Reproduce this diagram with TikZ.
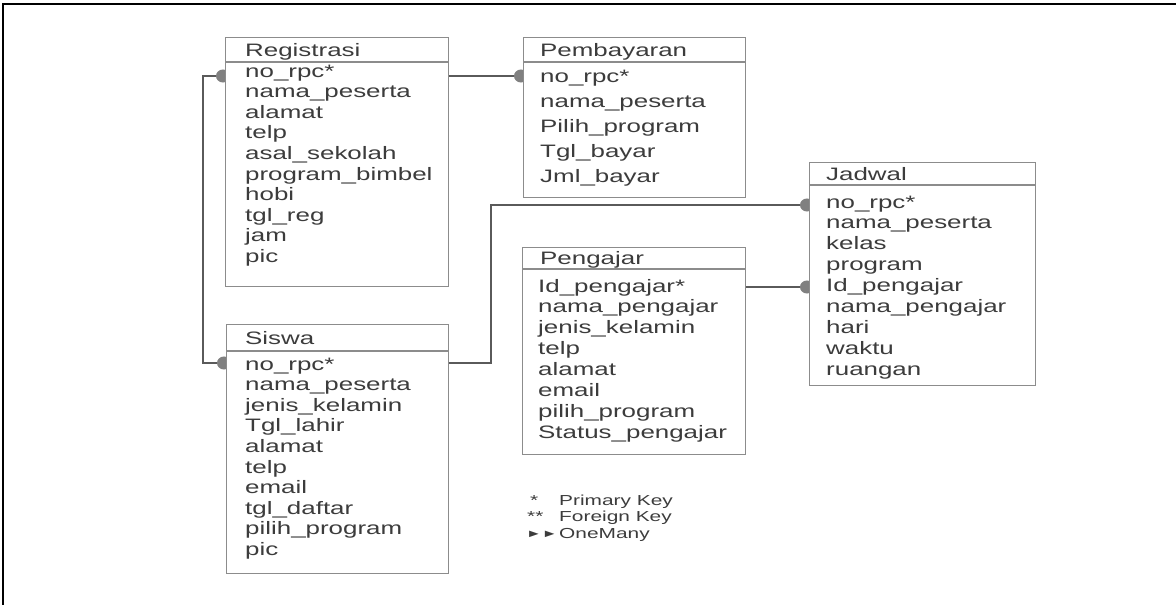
\documentclass[tikz,border=0pt]{standalone}
\usepackage{fontspec}
\setmainfont{Liberation Sans}[FakeStretch=1.44]
\usetikzlibrary{arrows.meta,calc}
\pgfdeclarelayer{bg}
\pgfsetlayers{bg,main}
\definecolor{txt}{HTML}{3C3C3C}
\definecolor{boxc}{HTML}{8C8C8C}
\definecolor{conn}{HTML}{5A5A5A}
\definecolor{dotc}{HTML}{808080}
\begin{document}
\begin{tikzpicture}[x=1pt,y=-1pt,
  tbl/.style={draw=boxc, fill=white, line width=1.3pt, anchor=north west, inner sep=0pt},
  fld/.style={anchor=base west, inner sep=0pt, text=txt, font=\fontsize{18}{20}\selectfont},
  ttl/.style={fld},
  hdr/.style={draw=boxc, line width=1.3pt},
  rel/.style={draw=conn, line width=1.3pt},
  dottip/.tip={Circle[length=14pt,width=13pt,color=dotc]},
  manyend/.style={-dottip, shorten >=-5pt},
  lgd/.style={anchor=base west, inner sep=0pt, text=txt, font=\fontsize{14.5}{16}\selectfont},
  frame/.style={draw=black, line width=2pt}]
\useasboundingbox (0,0) rectangle (1176,605);
\draw[frame] (3,605) -- (3,4) -- (1176,4);

% tables
\node[tbl, minimum width=223pt, minimum height=249pt] (reg) at (225,37) {};
\node[tbl, minimum width=222pt, minimum height=160pt] (pem) at (523,37) {};
\node[tbl, minimum width=226pt, minimum height=223pt] (jad) at (809,162) {};
\node[tbl, minimum width=223pt, minimum height=207pt] (pen) at (522,247) {};
\node[tbl, minimum width=222pt, minimum height=249pt] (sis) at (226,324) {};

% header lines
\coordinate (hreg) at (0,62);
\coordinate (hjad) at (0,185);
\coordinate (hpen) at (0,269);
\coordinate (hsis) at (0,351);
\draw[hdr] (reg.west |- hreg) -- (reg.east |- hreg);
\draw[hdr] (pem.west |- hreg) -- (pem.east |- hreg);
\draw[hdr] (jad.west |- hjad) -- (jad.east |- hjad);
\draw[hdr] (pen.west |- hpen) -- (pen.east |- hpen);
\draw[hdr] (sis.west |- hsis) -- (sis.east |- hsis);

% titles
\node[ttl] (reg-t) at (245,56) {Registrasi};
\node[ttl] (pem-t) at (540,56) {Pembayaran};
\node[ttl] (jad-t) at (826,180) {Jadwal};
\node[ttl] (pen-t) at (540,264) {Pengajar};
\node[ttl] (sis-t) at (245,344) {Siswa};

% fields
\foreach \t [count=\i from 0] in {no\_rpc*, nama\_peserta, alamat, telp, asal\_sekolah, program\_bimbel, hobi, tgl\_reg, jam, pic}
  \node[fld] (reg-\i) at (245,{77+20.6*\i}) {\t};
\foreach \t [count=\i from 0] in {no\_rpc*, nama\_peserta, Pilih\_program, Tgl\_bayar, Jml\_bayar}
  \node[fld] (pem-\i) at (540,{82+25*\i}) {\t};
\foreach \t [count=\i from 0] in {no\_rpc*, nama\_peserta, kelas, program, Id\_pengajar, nama\_pengajar, hari, waktu, ruangan}
  \node[fld] (jad-\i) at (826,{208+20.9*\i}) {\t};
\foreach \t [count=\i from 0] in {Id\_pengajar*, nama\_pengajar, jenis\_kelamin, telp, alamat, email, pilih\_program, Status\_pengajar}
  \node[fld] (pen-\i) at (538,{292+20.9*\i}) {\t};
\foreach \t [count=\i from 0] in {no\_rpc*, nama\_peserta, jenis\_kelamin, Tgl\_lahir, alamat, telp, email, tgl\_daftar, pilih\_program, pic}
  \node[fld] (sis-\i) at (245,{370+20.6*\i}) {\t};

% connectors (behind the white tables, so the dots show as half discs)
\coordinate (y1) at (0,76);
\coordinate (y2) at (0,363);
\coordinate (y3) at (0,205);
\coordinate (y4) at (0,287);
\coordinate (xl) at (203,0);
\coordinate (xm) at (491,0);
\begin{pgfonlayer}{bg}
\draw[rel, manyend] (reg.east |- y1) -- (pem.west |- y1);
\draw[rel, dottip-dottip, shorten <=-5pt, shorten >=-5pt]
  (reg.west |- y1) -- (xl |- y1) -- (xl |- y2) -- (sis.west |- y2);
\draw[rel, manyend] (sis.east |- y2) -- (xm |- y2) -- (xm |- y3) -- (jad.west |- y3);
\draw[rel, manyend] (pen.east |- y4) -- (jad.west |- y4);
\end{pgfonlayer}

% legend
\node[lgd] (l1s) at (530,505) {*};
\node[lgd] (l1) at (559,505) {Primary Key};
\node[lgd] (l2s) at (527,521.5) {**};
\node[lgd] (l2) at (559,521.5) {Foreign Key};
\node[lgd, font=\fontsize{11}{12}\selectfont] (l3s) at (526,537) {►►};
\node[lgd] (l3) at (559,538) {OneMany};
\end{tikzpicture}
\end{document}
